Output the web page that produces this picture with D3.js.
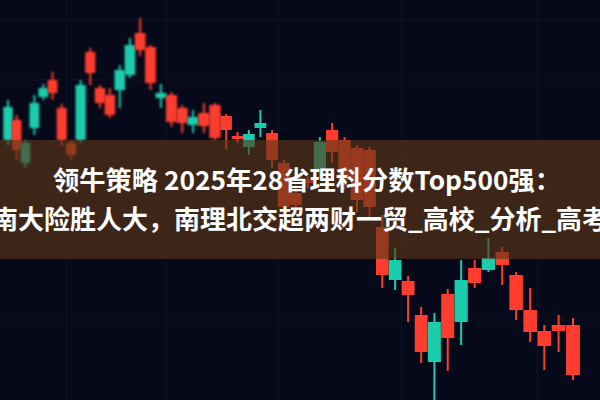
<!DOCTYPE html>
<html>
<head>
<meta charset="utf-8">
<script src="https://cdn.jsdelivr.net/npm/d3@7/dist/d3.min.js"></script>
<style>
  html, body { margin: 0; padding: 0; background: #06091a; }
  svg { display: block; }
</style>
</head>
<body>
<svg id="chart" width="600" height="400"></svg>
<script>
// ---- data (price units) ----
const opens  = [65, 70, 59.25, 68, 75.75, 80, 73, 64.25, 65, 87, 78, 76.25, 77.5, 81.25, 91.75, 88.25, 75.5, 76.25, 73, 68.75,
                71.75, 73.75, 71, 66, 63.25, 68, 66.75, 59.25, 51.75, 55, 57.5, 67.5, 65, 63, 62.5, 43.25, 30, 29.75, 21.25, 9.5,
                26.5, 19.5, 33, 32.5, 37, 31.25, 22.5, 17.25, 18.75, 18.75];
const closes = [73.25, 62.5, 64.25, 74.25, 78, 76.75, 65, 61.25, 78.75, 81.75, 74.25, 71.25, 82.5, 88.75, 87.5, 79.25, 76.75, 69.5, 69.25, 70.75,
                68.5, 65.5, 67.5, 65.25, 66.5, 69.25, 60, 48.25, 48.75, 54.25, 64.5, 62, 55, 50, 48.25, 31.25, 35, 26.25, 12, 19.5,
                15.5, 30, 29.25, 35.5, 33.75, 22.5, 17, 13.5, 17.25, 6.25];
const highs  = [75, 71.25, 65, 76.25, 79, 82, 74, 65, 80, 88, 78.75, 78, 83.75, 90.5, 95.5, 88.75, 79, 77, 73.75, 72.5,
                74.25, 74.25, 71.5, 67, 67.5, 72.5, 67.5, 60, 53.75, 56, 65.75, 69.25, 65.75, 63.75, 63.25, 46.25, 38, 31, 23.25, 21.75,
                27.75, 35, 35, 40.5, 38.25, 32, 28, 18.75, 21.25, 20.5];
const lows   = [63.75, 60, 58, 66.25, 75, 75, 63.5, 60, 64.25, 78.75, 73, 70.5, 73, 80.5, 86, 77.5, 73, 68.25, 66.75, 66.75,
                66.75, 65, 62.5, 64.25, 61.25, 65.75, 58, 46.25, 46.25, 53, 55.5, 59.25, 52.5, 47, 45, 28, 27.5, 19.5, 9.25, 0,
                7.25, 13.75, 28, 32, 28.75, 20, 14.5, 7.5, 12, 5];
const titleLines = ["领牛策略 2025年28省理科分数Top500强：", "南大险胜人大，南理北交超两财一贸_高校_分析_高考"];

const W = 600, H = 400;
const svg = d3.select("#chart");
const candles = opens.map((o, i) => ({ i, o, c: closes[i], h: highs[i], l: lows[i] }));

// perspective-like horizontal scale (spacing grows to the right)
const OFF = 72;
const x = d3.scalePow().exponent(2).domain([OFF, OFF + opens.length - 1]).range([8, 573]);
const px = i => x(i + OFF);
const y = d3.scaleLinear().domain([0, 100]).range([H, 0]);

// background
svg.append("rect").attr("width", W).attr("height", H).attr("fill", "#06091a");

// faint grid
const grid = svg.append("g").attr("stroke", "#2a3550").attr("stroke-opacity", 0.22).attr("stroke-width", 1);
[6, 16, 26, 36, 46].forEach(i => grid.append("line")
  .attr("x1", px(i) + 0.5 * (px(i + 1) - px(i))).attr("x2", px(i) + 0.5 * (px(i + 1) - px(i)))
  .attr("y1", 0).attr("y2", H));
[95, 80, 60, 40, 20].forEach(v => grid.append("line")
  .attr("x1", 0).attr("x2", W).attr("y1", y(v)).attr("y2", y(v)));

// soft focus
const defs = svg.append("defs");
defs.append("filter").attr("id", "blurL").attr("x", "-50%").attr("y", "-50%").attr("width", "200%").attr("height", "200%")
  .append("feGaussianBlur").attr("stdDeviation", 1.3);
defs.append("filter").attr("id", "blurR").attr("x", "-50%").attr("y", "-50%").attr("width", "200%").attr("height", "200%")
  .append("feGaussianBlur").attr("stdDeviation", 0.6);

const UP = "#1ccdad", DOWN = "#ff3d2e";
const g = svg.append("g");
const cg = g.selectAll("g.candle").data(candles).join("g")
  .attr("class", "candle")
  .attr("filter", d => d.i < 22 ? "url(#blurL)" : "url(#blurR)");

const spacing = i => px(i + 0.5) - px(i - 0.5);

cg.append("line")
  .attr("x1", d => px(d.i)).attr("x2", d => px(d.i))
  .attr("y1", d => y(d.h)).attr("y2", d => y(d.l))
  .attr("stroke", d => d.c >= d.o ? UP : DOWN)
  .attr("stroke-width", 2);

cg.append("rect")
  .attr("x", d => px(d.i) - (0.75 * spacing(d.i) + 3) / 2)
  .attr("width", d => 0.75 * spacing(d.i) + 3)
  .attr("y", d => y(Math.max(d.o, d.c)))
  .attr("height", d => Math.max(2, Math.abs(y(d.o) - y(d.c))))
  .attr("fill", d => d.c >= d.o ? UP : DOWN);

// banner
svg.append("rect").attr("x", 0).attr("y", 140).attr("width", W).attr("height", 119)
  .attr("fill", "rgb(92,54,24)").attr("fill-opacity", 0.64);

const tg = svg.append("g")
  .attr("fill", "#ffffff")
  .attr("font-family", "'Noto Sans CJK SC', 'Noto Sans', sans-serif")
  .attr("font-weight", 700)
  .attr("font-size", 26);

tg.append("text")
  .attr("x", 307).attr("y", 190)
  .attr("text-anchor", "middle")
  .attr("textLength", 508).attr("lengthAdjust", "spacingAndGlyphs")
  .text(titleLines[0]);

tg.append("text")
  .attr("x", W / 2).attr("y", 229)
  .attr("text-anchor", "middle")
  .text(titleLines[1]);
</script>
</body>
</html>
